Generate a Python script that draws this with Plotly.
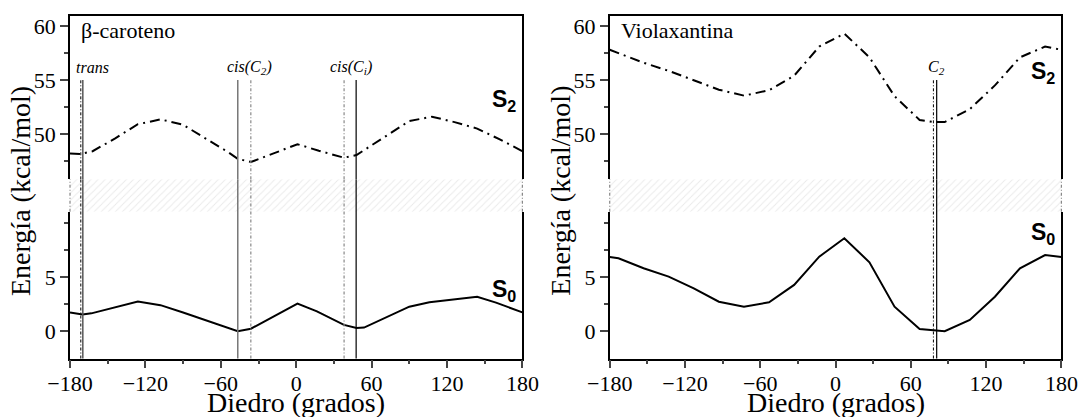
import plotly.graph_objects as go

W, H = 1081, 417

# ---- β-caroteno : energy profiles vs. dihedral angle ----
bc_s0_deg = [-180, -170, -163, -126, -108, -90, -46.5, -36, 1, 16.5, 38, 48, 54, 90, 106, 144, 159, 180]
bc_s0_val = [1.75, 1.55, 1.66, 2.75, 2.42, 1.74, 0.0, 0.24, 2.57, 1.85, 0.59, 0.3, 0.34, 2.28, 2.68, 3.2, 2.65, 1.75]
bc_s2_deg = [-180, -171.4, -162, -144, -126, -108, -90, -72, -54, -46.5, -36, -18, 1, 18, 38, 48, 54, 72, 90, 108, 126, 144, 162, 180]
bc_s2_val = [48.2, 48.15, 48.4, 49.6, 50.9, 51.35, 50.85, 49.6, 48.3, 47.7, 47.4, 48.2, 49.05, 48.45, 47.8, 48.05, 48.5, 49.9, 51.2, 51.6, 51.1, 50.5, 49.5, 48.4]
# conformer positions: (S2 minimum, S0 minimum) for trans, cis(C2), cis(Ci)
bc_conf_labels = ["trans", "cis(C<sub>2</sub>)", "cis(C<sub>i</sub>)"]
bc_conf_s2 = [-171.4, -36.1, 38.1]
bc_conf_s0 = [-169.8, -46.5, 47.7]

# ---- Violaxantina ----
vx_s0_deg = [-180, -173, -153, -133, -113, -93, -73, -53, -33, -13, 7, 27, 47, 67, 87, 107, 127, 147, 167, 180]
vx_s0_val = [6.88, 6.76, 5.83, 5.06, 3.98, 2.74, 2.28, 2.68, 4.29, 6.91, 8.61, 6.39, 2.28, 0.21, 0.0, 1.05, 3.2, 5.83, 7.06, 6.88]
vx_s2_deg = [-180, -173, -153, -133, -113, -93, -73, -53, -33, -13, 7, 27, 47, 67, 78, 87, 107, 127, 147, 167, 180]
vx_s2_val = [57.8, 57.5, 56.6, 55.85, 54.95, 54.1, 53.55, 54.05, 55.4, 58.1, 59.3, 57.1, 53.5, 51.3, 51.1, 51.1, 52.3, 54.5, 57.1, 58.1, 57.8]
vx_conf_labels = ["C<sub>2</sub>"]
vx_conf_s2 = [78.0]
vx_conf_s0 = [80.6]

# axis ranges / ticks
x_range = [-180, 180]
x_ticks = [-180, -120, -60, 0, 60, 120, 180]
x_minor = [-150, -90, -30, 30, 90, 150]
up_range = [45.8, 60.93]
up_ticks = [50, 55, 60]
up_minor = [47.5, 52.5, 57.5]
lo_range = [-2.52, 11.07]
lo_ticks = [0, 5]
lo_minor = [2.5, 7.5, 10]
line_top = 55


def fx(p):
    return p / W


def fy(p):
    return 1 - p / H


SERIF = "Liberation Serif"
SANS = "Liberation Sans"

up_dom = [fy(179.3), fy(16)]
lo_dom = [fy(358.5), fy(211.7)]
band_dom = [lo_dom[1], up_dom[0]]

panels = [
    dict(title="β-caroteno", x0=70, x1=522.4, ax=("", "2", "5"),
         s0=(bc_s0_deg, bc_s0_val), s2=(bc_s2_deg, bc_s2_val),
         labels=bc_conf_labels, c2=bc_conf_s2, c0=bc_conf_s0,
         s2_style=[("black", 1), ("#888888", 1.2), ("#888888", 1.2)],
         s0_style=[("#555555", 1.5), ("#777777", 1.5), ("black", 1.2)],
         label_x=[92, 249, 351]),
    dict(title="Violaxantina", x0=609.7, x1=1061.4, ax=("3", "4", "6"),
         s0=(vx_s0_deg, vx_s0_val), s2=(vx_s2_deg, vx_s2_val),
         labels=vx_conf_labels, c2=vx_conf_s2, c0=vx_conf_s0,
         s2_style=[("black", 1)],
         s0_style=[("black", 1.2)],
         label_x=[936]),
]

fig = go.Figure()
layout = {}
shapes = []
annotations = []

tickfont = dict(family=SERIF, size=22, color="black")

for p in panels:
    up, lo, bd = p["ax"]
    xdom = [fx(p["x0"]), fx(p["x1"])]

    # S2 (dash-dot) in upper segment
    fig.add_trace(go.Scatter(x=p["s2"][0], y=p["s2"][1], mode="lines",
                             line=dict(color="black", width=2, dash="10px,5px,2px,5px"),
                             xaxis="x" + up, yaxis="y" + up, showlegend=False))
    # S0 (solid) in lower segment
    fig.add_trace(go.Scatter(x=p["s0"][0], y=p["s0"][1], mode="lines",
                             line=dict(color="black", width=2),
                             xaxis="x" + lo, yaxis="y" + lo, showlegend=False))
    # hatched break band
    fig.add_trace(go.Scatter(x=[x_range[0], x_range[1], x_range[1], x_range[0]],
                             y=[0, 0, 1, 1], mode="lines", fill="toself",
                             line=dict(width=0), fillcolor="rgba(0,0,0,0)",
                             fillpattern=dict(shape="/", size=5, solidity=0.2,
                                              fgcolor="#d6d6d6", bgcolor="white"),
                             xaxis="x" + bd, yaxis="y" + bd, showlegend=False,
                             hoverinfo="skip"))

    layout["xaxis" + up] = dict(domain=xdom, range=x_range, anchor="y" + up, side="top",
                                showline=True, linecolor="black", linewidth=1.5, automargin=False,
                                showticklabels=False, ticks="", showgrid=False, zeroline=False)
    layout["yaxis" + up] = dict(domain=up_dom, range=up_range, anchor="x" + up, automargin=False,
                                tickvals=up_ticks, ticks="outside", ticklen=8, tickwidth=1.5,
                                minor=dict(tickvals=up_minor, ticks="outside", ticklen=4, tickwidth=1.5),
                                showline=True, mirror=True, linecolor="black", linewidth=1.5,
                                showgrid=False, zeroline=False, tickfont=tickfont)
    layout["xaxis" + lo] = dict(domain=xdom, range=x_range, anchor="y" + lo, automargin=False,
                                tickvals=x_ticks, ticks="outside", ticklen=8, tickwidth=1.5,
                                ticklabelstandoff=-4,
                                minor=dict(tickvals=x_minor, ticks="outside", ticklen=4, tickwidth=1.5),
                                showline=True, linecolor="black", linewidth=1.5,
                                showgrid=False, zeroline=False, tickfont=tickfont)
    layout["yaxis" + lo] = dict(domain=lo_dom, range=lo_range, anchor="x" + lo, automargin=False,
                                tickvals=lo_ticks, ticks="outside", ticklen=8, tickwidth=1.5,
                                minor=dict(tickvals=lo_minor, ticks="outside", ticklen=4, tickwidth=1.5),
                                showline=True, mirror=True, linecolor="black", linewidth=1.5,
                                showgrid=False, zeroline=False, tickfont=tickfont)
    layout["xaxis" + bd] = dict(domain=xdom, range=x_range, anchor="y" + bd, visible=False,
                                automargin=False)
    layout["yaxis" + bd] = dict(domain=band_dom, range=[0, 1], anchor="x" + bd, visible=False,
                                automargin=False)

    # dotted edges of the band
    for xe in xdom:
        shapes.append(dict(type="line", xref="paper", yref="paper", x0=xe, x1=xe,
                           y0=band_dom[0], y1=band_dom[1],
                           line=dict(color="#888888", width=1.2, dash="3px,2px,1px,2px")))

    # conformer lines (S2 minimum dash-dot, S0 minimum solid)
    for vals, styles, dash in ((p["c2"], p["s2_style"], "3px,2px,1px,2px"),
                               (p["c0"], p["s0_style"], "solid")):
        for v, (col, w) in zip(vals, styles):
            ln = dict(color=col, width=w, dash=dash)
            shapes.append(dict(type="line", xref="x" + lo, yref="paper", x0=v, x1=v,
                               y0=lo_dom[0], y1=up_dom[0], line=ln))
            shapes.append(dict(type="line", xref="x" + up, yref="y" + up, x0=v, x1=v,
                               y0=up_range[0], y1=line_top, line=ln))

    for txt, lx in zip(p["labels"], p["label_x"]):
        annotations.append(dict(text="<i>" + txt + "</i>", x=fx(lx), y=fy(67),
                                xref="paper", yref="paper", xanchor="center", yanchor="middle",
                                showarrow=False, font=dict(family=SERIF, size=16, color="black")))

    # panel title
    annotations.append(dict(text=p["title"], x=fx(p["x0"] + 9), y=fy(30), xref="paper", yref="paper",
                            xanchor="left", yanchor="middle", showarrow=False,
                            font=dict(family=SERIF, size=22, color="black")))
    # axis titles
    annotations.append(dict(text="Diedro (grados)", x=fx((p["x0"] + p["x1"]) / 2), y=fy(402),
                            xref="paper", yref="paper", xanchor="center", yanchor="middle",
                            showarrow=False, font=dict(family=SERIF, size=28, color="black")))
    annotations.append(dict(text="Energía (kcal/mol)", x=fx(p["x0"] - 50), y=fy(191),
                            xref="paper", yref="paper", xanchor="center", yanchor="middle",
                            textangle=-90, showarrow=False,
                            font=dict(family=SERIF, size=28, color="black")))

# state labels
state_pos = [("S<sub>2</sub>", 518, 100), ("S<sub>0</sub>", 518, 290),
             ("S<sub>2</sub>", 1057, 72), ("S<sub>0</sub>", 1057, 233)]
for txt, lx, ly in state_pos:
    annotations.append(dict(text="<b>" + txt + "</b>", x=fx(lx), y=fy(ly), xref="paper", yref="paper",
                            xanchor="right", yanchor="middle", showarrow=False,
                            font=dict(family=SANS, size=23, color="black")))

fig.update_layout(width=W, height=H, autosize=False,
                  margin=dict(l=0, r=0, t=0, b=0, autoexpand=False),
                  paper_bgcolor="white", plot_bgcolor="white",
                  shapes=shapes, annotations=annotations, **layout)

fig.write_html("out.html")
